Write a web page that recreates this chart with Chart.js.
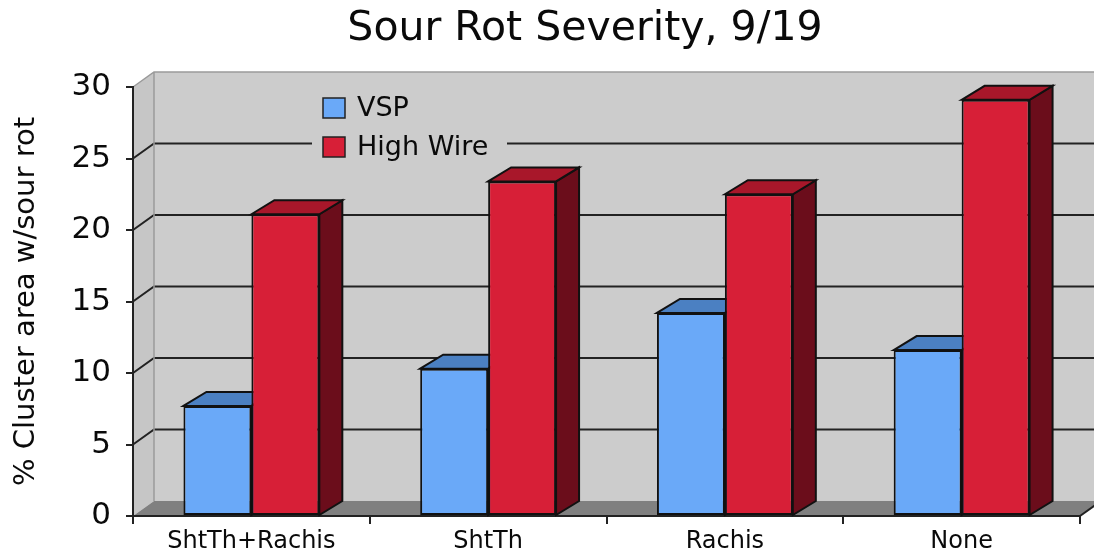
<!DOCTYPE html>
<html>
<head>
<meta charset="utf-8">
<script src="https://cdn.jsdelivr.net/npm/chart.js@4.4.1/dist/chart.umd.min.js"></script>
<style>
  html, body { margin: 0; padding: 0; background: #fff; }
  canvas { display: block; }
</style>
</head>
<body>
<canvas id="rotChart" width="1094" height="552"></canvas>
<script>
// chart data
const categories = ['ShtTh+Rachis', 'ShtTh', 'Rachis', 'None'];
const seriesNames = ['VSP', 'High Wire'];
const vspValues = [7.7, 10.3, 14.2, 11.6];
const highWireValues = [21.1, 23.4, 22.5, 29.1];
const yTicks = [0, 5, 10, 15, 20, 25, 30];
const chartTitle = 'Sour Rot Severity, 9/19';
const yTitle = '% Cluster area w/sour rot';

const FONT = "'DejaVu Sans', Verdana, sans-serif";
const front = ['#6aa9f8', '#d71f37'];
const topFace = ['#4b80c2', '#a8172a'];
const sideFace = ['#2f5f9a', '#6b0d1b'];

// depth offsets for the fake 3D look
const wallDx = 21, wallDy = 15;
const barDx = 23, barDy = 14;

function poly(ctx, pts, fill, stroke, lw) {
  ctx.beginPath();
  ctx.moveTo(pts[0][0], pts[0][1]);
  for (let i = 1; i < pts.length; i++) ctx.lineTo(pts[i][0], pts[i][1]);
  ctx.closePath();
  if (fill) { ctx.fillStyle = fill; ctx.fill(); }
  if (stroke) { ctx.strokeStyle = stroke; ctx.lineWidth = lw || 1; ctx.stroke(); }
}

const walls3d = {
  id: 'walls3d',
  beforeDraw(chart) {
    const ctx = chart.ctx;
    const y = chart.scales.y;
    const L = chart.chartArea.left, R = chart.chartArea.right;
    const T = y.getPixelForValue(yTicks[yTicks.length - 1]);
    const B = y.getPixelForValue(0);
    ctx.save();
    // back wall, left wall, floor
    poly(ctx, [[L + wallDx, T - wallDy], [R + wallDx, T - wallDy], [R + wallDx, B - wallDy], [L + wallDx, B - wallDy]], '#cccccc');
    poly(ctx, [[L, T], [L + wallDx, T - wallDy], [L + wallDx, B - wallDy], [L, B]], '#c6c6c6');
    poly(ctx, [[L, B], [L + wallDx, B - wallDy], [R + wallDx, B - wallDy], [R, B]], '#808080');

    // grid lines on the back wall
    ctx.lineWidth = 2;
    yTicks.forEach(v => {
      if (v === 0 || v === yTicks[yTicks.length - 1]) return;
      const py = y.getPixelForValue(v);
      ctx.strokeStyle = '#222';
      ctx.beginPath();
      ctx.moveTo(L, py);
      ctx.lineTo(L + wallDx, py - wallDy);
      ctx.lineTo(R + wallDx, py - wallDy);
      ctx.stroke();
    });
    // top edge and wall corner
    ctx.strokeStyle = '#9a9a9a';
    ctx.lineWidth = 1.5;
    ctx.beginPath();
    ctx.moveTo(L, T);
    ctx.lineTo(L + wallDx, T - wallDy);
    ctx.lineTo(R + wallDx, T - wallDy);
    ctx.moveTo(L + wallDx, T - wallDy);
    ctx.lineTo(L + wallDx, B - wallDy);
    ctx.stroke();
    // right end of the floor
    ctx.strokeStyle = '#222';
    ctx.lineWidth = 2;
    ctx.beginPath();
    ctx.moveTo(R, B);
    ctx.lineTo(R + wallDx, B - wallDy);
    ctx.stroke();

    // title
    ctx.fillStyle = '#0a0a0a';
    ctx.font = '41px ' + FONT;
    ctx.textAlign = 'center';
    ctx.textBaseline = 'middle';
    ctx.fillText(chartTitle, 585, 29);
    ctx.restore();
  },
  beforeDatasetsDraw(chart) {
    const ctx = chart.ctx;
    ctx.save();
    chart.data.datasets.forEach((ds, i) => {
      chart.getDatasetMeta(i).data.forEach(bar => {
        const l = bar.x - bar.width / 2, r = bar.x + bar.width / 2;
        poly(ctx, [[r, bar.y], [r + barDx, bar.y - barDy], [r + barDx, bar.base - barDy], [r, bar.base]], sideFace[i], '#111', 2);
        poly(ctx, [[l, bar.y], [l + barDx, bar.y - barDy], [r + barDx, bar.y - barDy], [r, bar.y]], topFace[i], '#111', 2);
      });
    });
    ctx.restore();
  },
  afterDraw(chart) {
    // legend sitting on the back wall
    const ctx = chart.ctx;
    ctx.save();
    ctx.fillStyle = '#cccccc';
    ctx.fillRect(312, 88, 195, 72);
    ctx.font = '27px ' + FONT;
    ctx.textAlign = 'left';
    ctx.textBaseline = 'middle';
    chart.data.datasets.forEach((ds, i) => {
      const cy = 108 + i * 39;
      ctx.fillStyle = ds.backgroundColor;
      ctx.fillRect(323, cy - 10, 22, 20);
      ctx.strokeStyle = '#222';
      ctx.lineWidth = 1.5;
      ctx.strokeRect(323, cy - 10, 22, 20);
      ctx.fillStyle = '#0a0a0a';
      ctx.fillText(ds.label, 357, cy + 1);
    });
    ctx.restore();
  }
};

window.addEventListener('load', () => {
  const ctx = document.getElementById('rotChart').getContext('2d');
  new Chart(ctx, {
    type: 'bar',
    data: {
      labels: categories,
      datasets: [
        { label: seriesNames[0], data: vspValues, backgroundColor: front[0] },
        { label: seriesNames[1], data: highWireValues, backgroundColor: front[1] }
      ]
    },
    options: {
      responsive: false,
      animation: false,
      layout: { padding: { top: 87, right: 14, left: 0, bottom: 0 } },
      datasets: {
        bar: {
          borderColor: '#111',
          borderWidth: 2,
          borderSkipped: false,
          barPercentage: 1,
          categoryPercentage: 0.574
        }
      },
      plugins: {
        legend: { display: false },
        tooltip: { enabled: false }
      },
      scales: {
        x: {
          grid: { drawOnChartArea: false, tickLength: 8, color: '#222', lineWidth: 2 },
          border: { color: '#222', width: 2 },
          ticks: { color: '#0a0a0a', font: { family: FONT, size: 24 }, padding: 3 },
          afterFit: s => { s.height = 36; }
        },
        y: {
          min: 0,
          max: 30,
          grid: { drawOnChartArea: false, tickLength: 7, color: '#222', lineWidth: 2 },
          border: { color: '#222', width: 2 },
          ticks: { stepSize: 5, color: '#0a0a0a', font: { family: FONT, size: 31 }, padding: 15 },
          title: {
            display: true,
            text: yTitle,
            color: '#0a0a0a',
            font: { family: FONT, size: 29 },
            padding: { top: 9, bottom: 0 }
          },
          afterFit: s => { s.width = 133; }
        }
      }
    },
    plugins: [walls3d]
  });
});
</script>
</body>
</html>
